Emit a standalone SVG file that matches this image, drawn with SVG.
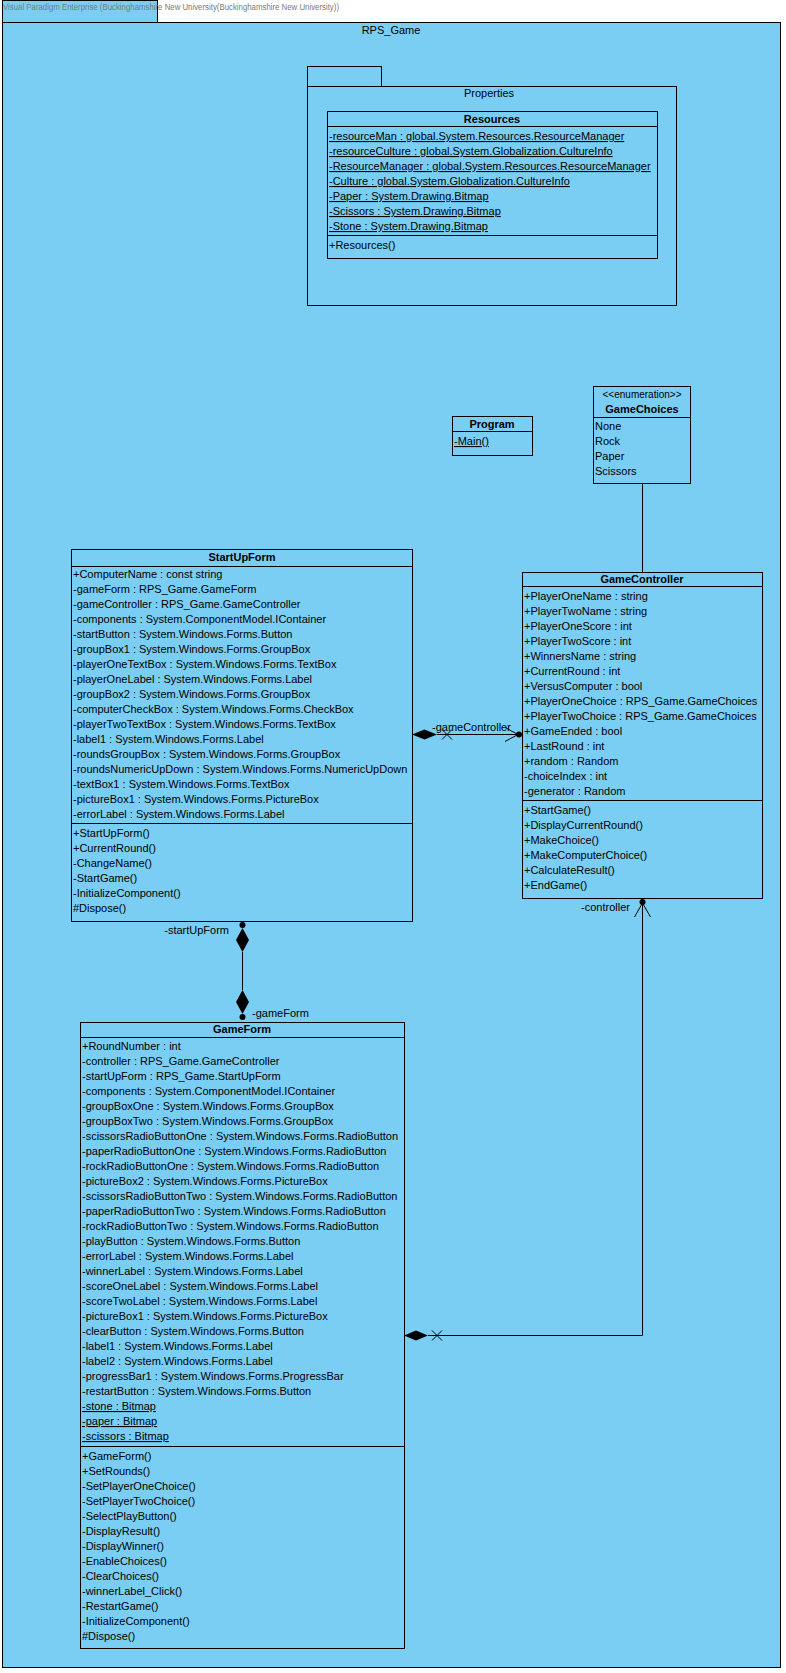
<svg xmlns="http://www.w3.org/2000/svg" width="786" height="1673" viewBox="0 0 786 1673">
<style>
.bg{fill:#7ACEF4;stroke:#000;stroke-width:1}
.cls{fill:#7ACEF4;stroke:#000;stroke-width:1}
.ln{stroke:#000;stroke-width:1;fill:none}
text{font-family:"Liberation Sans",Arial,sans-serif;font-size:11px;fill:#000}
.nm{font-weight:bold;text-anchor:middle}
.u{text-decoration:underline}
.hdr{font-size:8.5px;fill:#7a7a7a}
.mid{text-anchor:middle}
.end{text-anchor:end}
</style>
<rect x="0" y="0" width="786" height="1673" fill="#fff"/>
<g id="rps_game">
<rect class="bg" x="2.5" y="0.5" width="155" height="22"/>
<rect class="bg" x="2.5" y="22.5" width="778" height="1645"/>
<text class="hdr" x="3" y="10" textLength="336" lengthAdjust="spacingAndGlyphs">Visual Paradigm Enterprise (Buckinghamshire New University(Buckinghamshire New University))</text>
<text class="mid" x="391" y="34">RPS_Game</text>
</g>
<g id="properties">
<rect class="bg" x="307.5" y="66.5" width="74" height="20"/>
<rect class="bg" x="307.5" y="86.5" width="369" height="219"/>
<text class="mid" x="489" y="97">Properties</text>
</g>
<g id="resources">
<rect class="cls" x="327.5" y="111.5" width="330" height="147"/>
<line class="ln" x1="327.5" y1="126.5" x2="657.5" y2="126.5"/>
<line class="ln" x1="327.5" y1="235.5" x2="657.5" y2="235.5"/>
<text class="nm" x="492" y="123">Resources</text>
<text class="u" x="329" y="140">-resourceMan : global.System.Resources.ResourceManager</text>
<text class="u" x="329" y="155">-resourceCulture : global.System.Globalization.CultureInfo</text>
<text class="u" x="329" y="170">-ResourceManager : global.System.Resources.ResourceManager</text>
<text class="u" x="329" y="185">-Culture : global.System.Globalization.CultureInfo</text>
<text class="u" x="329" y="200">-Paper : System.Drawing.Bitmap</text>
<text class="u" x="329" y="215">-Scissors : System.Drawing.Bitmap</text>
<text class="u" x="329" y="230">-Stone : System.Drawing.Bitmap</text>
<text x="329" y="249">+Resources()</text>
</g>
<g id="program">
<rect class="cls" x="452.5" y="416.5" width="80" height="39"/>
<line class="ln" x1="452.5" y1="431.5" x2="532.5" y2="431.5"/>
<text class="nm" x="492" y="428">Program</text>
<text class="u" x="454" y="445">-Main()</text>
</g>
<g id="gamechoices">
<rect class="cls" x="593.5" y="386.5" width="97" height="97"/>
<line class="ln" x1="593.5" y1="417.5" x2="690.5" y2="417.5"/>
<text class="mid" x="642" y="398" style="font-size:10px">&lt;&lt;enumeration&gt;&gt;</text>
<text class="nm" x="642" y="413">GameChoices</text>
<text x="595" y="430">None</text>
<text x="595" y="445">Rock</text>
<text x="595" y="460">Paper</text>
<text x="595" y="475">Scissors</text>
</g>
<g id="startupform">
<rect class="cls" x="71.5" y="549.5" width="341" height="372"/>
<line class="ln" x1="71.5" y1="566.5" x2="412.5" y2="566.5"/>
<line class="ln" x1="71.5" y1="823.5" x2="412.5" y2="823.5"/>
<text class="nm" x="242" y="561">StartUpForm</text>
<text x="73" y="578">+ComputerName : const string<tspan x="73" dy="15">-gameForm : RPS_Game.GameForm</tspan><tspan x="73" dy="15">-gameController : RPS_Game.GameController</tspan><tspan x="73" dy="15">-components : System.ComponentModel.IContainer</tspan><tspan x="73" dy="15">-startButton : System.Windows.Forms.Button</tspan><tspan x="73" dy="15">-groupBox1 : System.Windows.Forms.GroupBox</tspan><tspan x="73" dy="15">-playerOneTextBox : System.Windows.Forms.TextBox</tspan><tspan x="73" dy="15">-playerOneLabel : System.Windows.Forms.Label</tspan><tspan x="73" dy="15">-groupBox2 : System.Windows.Forms.GroupBox</tspan><tspan x="73" dy="15">-computerCheckBox : System.Windows.Forms.CheckBox</tspan><tspan x="73" dy="15">-playerTwoTextBox : System.Windows.Forms.TextBox</tspan><tspan x="73" dy="15">-label1 : System.Windows.Forms.Label</tspan><tspan x="73" dy="15">-roundsGroupBox : System.Windows.Forms.GroupBox</tspan><tspan x="73" dy="15">-roundsNumericUpDown : System.Windows.Forms.NumericUpDown</tspan><tspan x="73" dy="15">-textBox1 : System.Windows.Forms.TextBox</tspan><tspan x="73" dy="15">-pictureBox1 : System.Windows.Forms.PictureBox</tspan><tspan x="73" dy="15">-errorLabel : System.Windows.Forms.Label</tspan></text>
<text x="73" y="837">+StartUpForm()<tspan x="73" dy="15">+CurrentRound()</tspan><tspan x="73" dy="15">-ChangeName()</tspan><tspan x="73" dy="15">-StartGame()</tspan><tspan x="73" dy="15">-InitializeComponent()</tspan><tspan x="73" dy="15">#Dispose()</tspan></text>
</g>
<g id="gamecontroller">
<rect class="cls" x="522.5" y="572.5" width="240" height="326"/>
<line class="ln" x1="522.5" y1="586.5" x2="762.5" y2="586.5"/>
<line class="ln" x1="522.5" y1="800.5" x2="762.5" y2="800.5"/>
<text class="nm" x="642" y="583">GameController</text>
<text x="524" y="600">+PlayerOneName : string<tspan x="524" dy="15">+PlayerTwoName : string</tspan><tspan x="524" dy="15">+PlayerOneScore : int</tspan><tspan x="524" dy="15">+PlayerTwoScore : int</tspan><tspan x="524" dy="15">+WinnersName : string</tspan><tspan x="524" dy="15">+CurrentRound : int</tspan><tspan x="524" dy="15">+VersusComputer : bool</tspan><tspan x="524" dy="15">+PlayerOneChoice : RPS_Game.GameChoices</tspan><tspan x="524" dy="15">+PlayerTwoChoice : RPS_Game.GameChoices</tspan><tspan x="524" dy="15">+GameEnded : bool</tspan><tspan x="524" dy="15">+LastRound : int</tspan><tspan x="524" dy="15">+random : Random</tspan><tspan x="524" dy="15">-choiceIndex : int</tspan><tspan x="524" dy="15">-generator : Random</tspan></text>
<text x="524" y="814">+StartGame()<tspan x="524" dy="15">+DisplayCurrentRound()</tspan><tspan x="524" dy="15">+MakeChoice()</tspan><tspan x="524" dy="15">+MakeComputerChoice()</tspan><tspan x="524" dy="15">+CalculateResult()</tspan><tspan x="524" dy="15">+EndGame()</tspan></text>
</g>
<g id="gameform">
<rect class="cls" x="80.5" y="1022.5" width="324" height="626"/>
<line class="ln" x1="80.5" y1="1037.5" x2="404.5" y2="1037.5"/>
<line class="ln" x1="80.5" y1="1446.5" x2="404.5" y2="1446.5"/>
<text class="nm" x="242" y="1033">GameForm</text>
<text x="82" y="1050">+RoundNumber : int<tspan x="82" dy="15">-controller : RPS_Game.GameController</tspan><tspan x="82" dy="15">-startUpForm : RPS_Game.StartUpForm</tspan><tspan x="82" dy="15">-components : System.ComponentModel.IContainer</tspan><tspan x="82" dy="15">-groupBoxOne : System.Windows.Forms.GroupBox</tspan><tspan x="82" dy="15">-groupBoxTwo : System.Windows.Forms.GroupBox</tspan><tspan x="82" dy="15">-scissorsRadioButtonOne : System.Windows.Forms.RadioButton</tspan><tspan x="82" dy="15">-paperRadioButtonOne : System.Windows.Forms.RadioButton</tspan><tspan x="82" dy="15">-rockRadioButtonOne : System.Windows.Forms.RadioButton</tspan><tspan x="82" dy="15">-pictureBox2 : System.Windows.Forms.PictureBox</tspan><tspan x="82" dy="15">-scissorsRadioButtonTwo : System.Windows.Forms.RadioButton</tspan><tspan x="82" dy="15">-paperRadioButtonTwo : System.Windows.Forms.RadioButton</tspan><tspan x="82" dy="15">-rockRadioButtonTwo : System.Windows.Forms.RadioButton</tspan><tspan x="82" dy="15">-playButton : System.Windows.Forms.Button</tspan><tspan x="82" dy="15">-errorLabel : System.Windows.Forms.Label</tspan><tspan x="82" dy="15">-winnerLabel : System.Windows.Forms.Label</tspan><tspan x="82" dy="15">-scoreOneLabel : System.Windows.Forms.Label</tspan><tspan x="82" dy="15">-scoreTwoLabel : System.Windows.Forms.Label</tspan><tspan x="82" dy="15">-pictureBox1 : System.Windows.Forms.PictureBox</tspan><tspan x="82" dy="15">-clearButton : System.Windows.Forms.Button</tspan><tspan x="82" dy="15">-label1 : System.Windows.Forms.Label</tspan><tspan x="82" dy="15">-label2 : System.Windows.Forms.Label</tspan><tspan x="82" dy="15">-progressBar1 : System.Windows.Forms.ProgressBar</tspan><tspan x="82" dy="15">-restartButton : System.Windows.Forms.Button</tspan></text>
<text class="u" x="82" y="1410">-stone : Bitmap</text>
<text class="u" x="82" y="1425">-paper : Bitmap</text>
<text class="u" x="82" y="1440">-scissors : Bitmap</text>
<text x="82" y="1460">+GameForm()<tspan x="82" dy="15">+SetRounds()</tspan><tspan x="82" dy="15">-SetPlayerOneChoice()</tspan><tspan x="82" dy="15">-SetPlayerTwoChoice()</tspan><tspan x="82" dy="15">-SelectPlayButton()</tspan><tspan x="82" dy="15">-DisplayResult()</tspan><tspan x="82" dy="15">-DisplayWinner()</tspan><tspan x="82" dy="15">-EnableChoices()</tspan><tspan x="82" dy="15">-ClearChoices()</tspan><tspan x="82" dy="15">-winnerLabel_Click()</tspan><tspan x="82" dy="15">-RestartGame()</tspan><tspan x="82" dy="15">-InitializeComponent()</tspan><tspan x="82" dy="15">#Dispose()</tspan></text>
</g>
<g id="connectors">
<line class="ln" x1="642.5" y1="483" x2="642.5" y2="572"/>
<line class="ln" x1="437" y1="734.5" x2="518" y2="734.5"/>
<polygon points="412,734.5 424.5,729.5 437,734.5 424.5,739.5" fill="#000"/>
<path class="ln" d="M442,729.5 L452,739.5 M442,739.5 L452,729.5"/>
<path class="ln" d="M505,727.5 L518,734.5 L505,741.5"/>
<circle cx="519" cy="734.5" r="3" fill="#000"/>
<text x="432" y="731">-gameController</text>
<line class="ln" x1="242.5" y1="952" x2="242.5" y2="990"/>
<polygon points="242.5,928 249,940 242.5,952 236,940" fill="#000"/>
<polygon points="242.5,990 249,1002 242.5,1014 236,1002" fill="#000"/>
<circle cx="242.5" cy="925" r="3" fill="#000"/>
<circle cx="242.5" cy="1017" r="3" fill="#000"/>
<text class="end" x="229" y="934">-startUpForm</text>
<text x="252" y="1017">-gameForm</text>
<path class="ln" d="M642.5,903 L642.5,1335.5 L428,1335.5"/>
<polygon points="404,1335.5 416,1330.5 428,1335.5 416,1340.5" fill="#000"/>
<path class="ln" d="M432,1330.5 L442,1340.5 M432,1340.5 L442,1330.5"/>
<path class="ln" d="M634.5,917 L642.5,903 L650.5,917"/>
<circle cx="642.5" cy="902" r="3" fill="#000"/>
<text class="end" x="630" y="911">-controller</text>
</g>
</svg>
